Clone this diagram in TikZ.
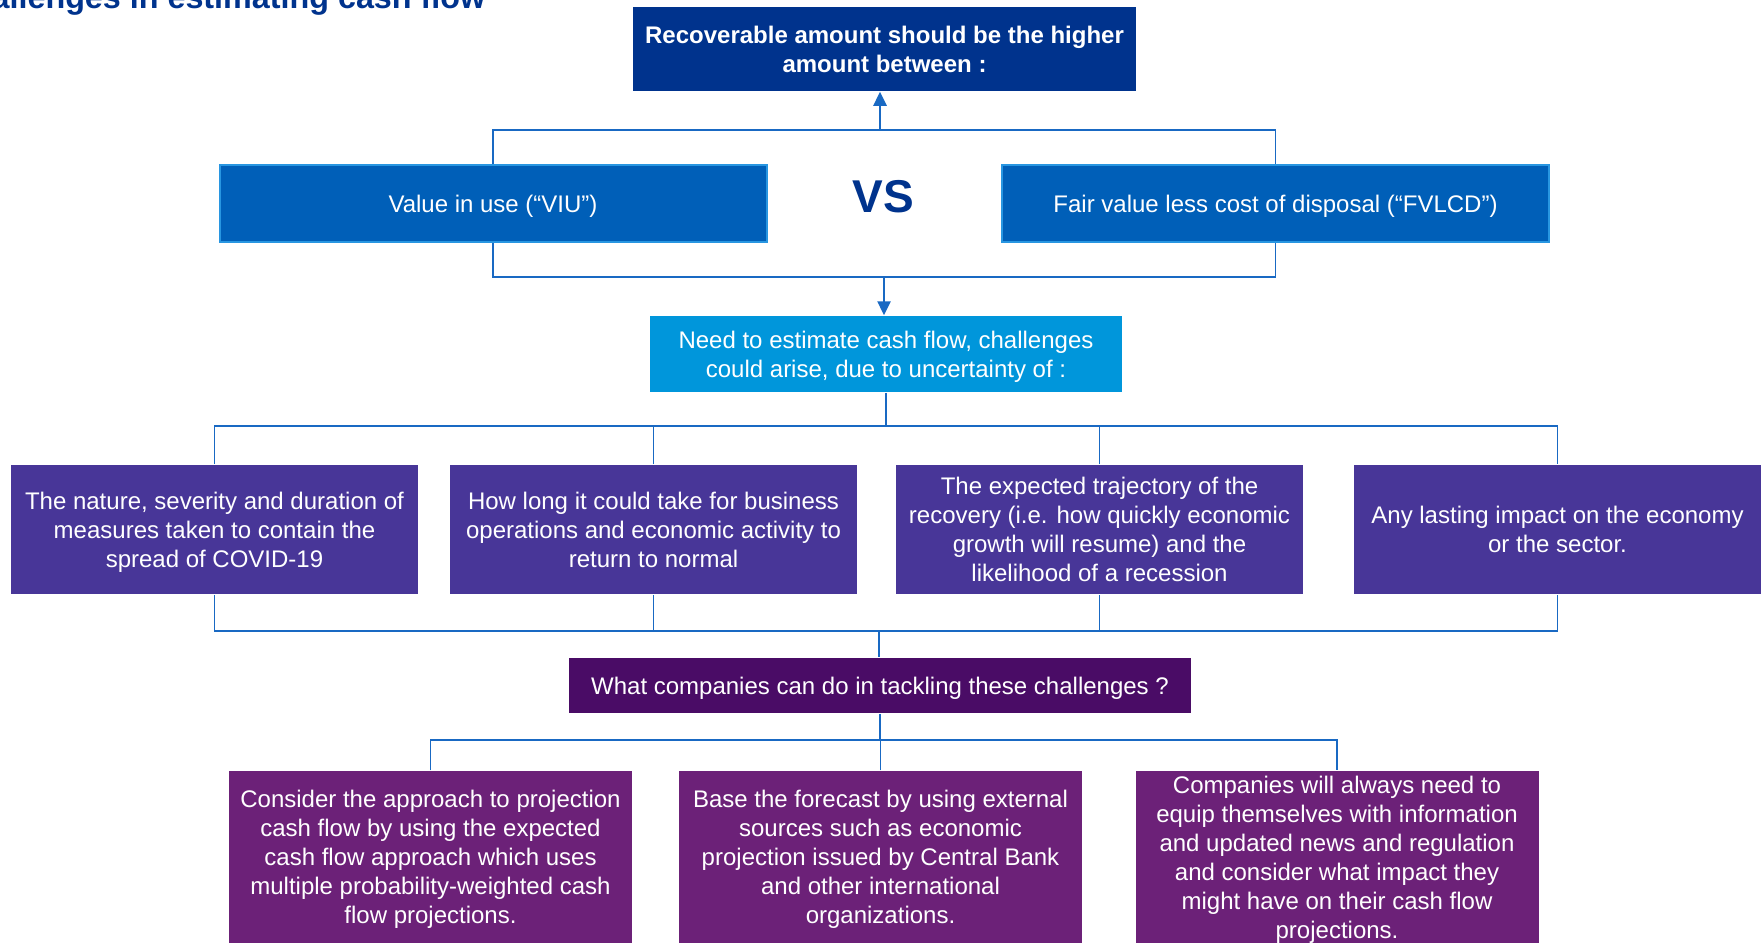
\documentclass[tikz,border=0pt]{standalone}
\usepackage{fontspec}
\setmainfont{Liberation Sans}
\usetikzlibrary{positioning,arrows.meta}

\definecolor{kdarkblue}{RGB}{0,51,141}
\definecolor{kblue}{RGB}{0,95,184}
\definecolor{kblueedge}{RGB}{40,150,225}
\definecolor{kcyan}{RGB}{0,150,219}
\definecolor{kviolet}{RGB}{72,54,152}
\definecolor{kplum}{RGB}{74,12,102}
\definecolor{kpurple}{RGB}{108,33,120}
\definecolor{kline}{RGB}{25,105,195}

\begin{document}
\begin{tikzpicture}[x=1pt,y=-1pt,>={Triangle[length=14pt,width=13pt]},line width=1.5pt]
\tikzstyle{box} = [shape=rectangle, text=white, align=center, inner sep=0pt, text depth=0pt, font=\fontsize{24}{29}\selectfont]
\tikzstyle{valbox} = [box, fill=kblue, draw=kblueedge, line width=2pt, minimum width=547pt, minimum height=77pt]
\tikzstyle{cause} = [box, fill=kviolet, minimum width=407pt, minimum height=129pt]
\tikzstyle{action} = [box, fill=kpurple, minimum width=403pt, minimum height=172pt]
\tikzstyle{link} = [draw=kline, line width=1.5pt]

\useasboundingbox (0,0) rectangle (1763,942);
\clip (0,0) rectangle (1763,942);

% Title
\node[anchor=base east, inner sep=0pt, text=kdarkblue, font=\fontsize{32.3}{38}\selectfont\bfseries] (title) at (486,9) {Challenges in estimating cash flow};

% Recoverable amount
\node[box, fill=kdarkblue, minimum width=503pt, minimum height=84pt, font=\fontsize{24}{29}\selectfont\bfseries] (rec) at (884.5,49) {Recoverable amount should be the higher\\amount between :};

% VIU vs FVLCD
\node[valbox] (viu) at (493,203.5) {Value in use (“VIU”)};
\node[valbox, right of=viu, node distance=782.5pt] (fvlcd) {Fair value less cost of disposal (“FVLCD”)};
\node[text=kdarkblue, font=\fontsize{46}{50}\selectfont\bfseries] (vs) at (883,197) {VS};
\coordinate (topbar) at (880,130);
\coordinate (midbar) at (884,277);
\draw[link] (viu.north) |- (topbar) -| (fvlcd.north);
\draw[link, ->, line width=2.5pt] (topbar) -- (topbar |- rec.south);
\draw[link] (viu.south) |- (midbar) -| (fvlcd.south);

% Need to estimate
\node[box, fill=kcyan, minimum width=472pt, minimum height=76pt] (need) at (886,354) {Need to estimate cash flow, challenges\\could arise, due to uncertainty of :};
\draw[link, ->, line width=2.5pt] (midbar) -- (midbar |- need.north);

% Uncertainties
\node[cause] (c1) at (214.5,529.5) {The nature, severity and duration of\\measures taken to contain the\\spread of COVID-19};
\node[cause, right of=c1, node distance=439pt] (c2) {How long it could take for business\\operations and economic activity to\\return to normal};
\node[cause, right of=c2, node distance=446pt] (c3) {The expected trajectory of the\\recovery (i.e. how quickly economic\\growth will resume) and the\\likelihood of a recession};
\node[cause, right of=c3, node distance=458pt] (c4) {Any lasting impact on the economy\\or the sector.};
\coordinate (split1) at (886,426);
\draw[link] (need.south) -- (split1);
\draw[link] (c1.north) |- (split1) -| (c4.north);
\draw[link] (c2.north) -- (c2.north |- split1);
\draw[link] (c3.north) -- (c3.north |- split1);

% What companies can do
\node[box, fill=kplum, minimum width=622pt, minimum height=55pt] (what) at (880,685.5) {What companies can do in tackling these challenges ?};
\coordinate (join1) at (879,631);
\draw[link] (c1.south) |- (join1) -| (c4.south);
\draw[link] (c2.south) -- (c2.south |- join1);
\draw[link] (c3.south) -- (c3.south |- join1);
\draw[link] (join1) -- (join1 |- what.north);

% Actions
\node[action] (a1) at (430.5,857) {Consider the approach to projection\\cash flow by using the expected\\cash flow approach which uses\\multiple probability-weighted cash\\flow projections.};
\node[action, right of=a1, node distance=450pt] (a2) {Base the forecast by using external\\sources such as economic\\projection issued by Central Bank\\and other international\\organizations.};
\node[action, right of=a2, node distance=456.5pt] (a3) {Companies will always need to\\equip themselves with information\\and updated news and regulation\\and consider what impact they\\might have on their cash flow\\projections.};
\coordinate (split2) at (880,740);
\draw[link] (what.south) -- (split2);
\draw[link] (a1.north) |- (split2) -| (a3.north);
\draw[link] (a2.north) -- (a2.north |- split2);

\end{tikzpicture}
\end{document}
